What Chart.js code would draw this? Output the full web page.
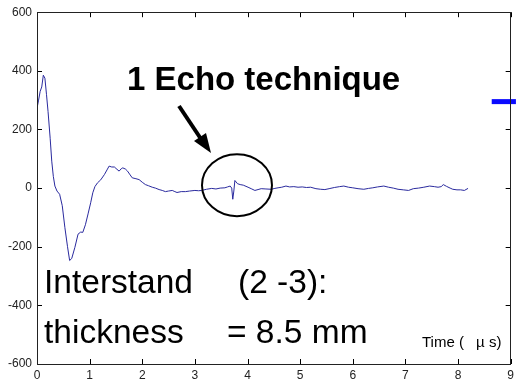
<!DOCTYPE html>
<html>
<head>
<meta charset="utf-8">
<script src="https://cdn.jsdelivr.net/npm/chart.js@4/dist/chart.umd.min.js"></script>
<style>
  html, body { margin: 0; padding: 0; background: #fff; }
  #wrap { width: 518px; height: 385px; }
</style>
</head>
<body>
<div id="wrap"><canvas id="myChart"></canvas></div>
<script>
// echo signal, time in microseconds
const times = [0, 0.03, 0.06, 0.09, 0.12, 0.15, 0.18, 0.21, 0.25, 0.28, 0.31, 0.34, 0.38, 0.43, 0.48, 0.53, 0.58, 0.62, 0.66, 0.72,
    0.78, 0.83, 0.87, 0.92, 0.97, 1.02, 1.06, 1.10, 1.15, 1.21, 1.28, 1.33, 1.37, 1.42, 1.47, 1.52, 1.56, 1.60, 1.63, 1.68,
    1.72, 1.77, 1.81, 1.88, 1.94, 2.00, 2.06, 2.12, 2.19, 2.25, 2.32, 2.38, 2.44, 2.50, 2.57, 2.62, 2.66, 2.74, 2.82, 2.90,
    3.00, 3.07, 3.13, 3.22, 3.32, 3.40, 3.48, 3.57, 3.62, 3.67, 3.70, 3.72, 3.74, 3.76, 3.81, 3.86, 3.92, 4.01, 4.07, 4.14,
    4.20, 4.26, 4.35, 4.45, 4.52, 4.58, 4.65, 4.73, 4.80, 4.88, 4.96, 5.04, 5.12, 5.20, 5.30, 5.39, 5.47, 5.55, 5.65, 5.75,
    5.83, 5.92, 6.00, 6.10, 6.21, 6.30, 6.38, 6.47, 6.59, 6.68, 6.77, 6.86, 6.96, 7.06, 7.15, 7.25, 7.35, 7.46, 7.55, 7.62,
    7.68, 7.72, 7.78, 7.85, 7.90, 7.98, 8.05, 8.12, 8.19];
const amplitude = [272, 300, 330, 345, 385, 375, 320, 261, 170, 92, 40, 7, -10, -21, -60, -135, -200, -247, -240, -202,
    -157, -150, -151, -125, -88, -50, -16, 5, 18, 28, 46, 62, 75, 72, 72, 64, 58, 66, 69, 65,
    58, 45, 35, 32, 29, 20, 12, 8, 3, 0, -5, -8, -12, -10, -8, -12, -15, -12, -12, -10,
    -8, -9, -8, -4, -1, -3, 0, 1, 4, 7, 0, -38, -10, 26, 15, 12, 10, 3, -2, -8,
    -5, -2, -3, -4, -1, 1, 3, 7, 4, 5, 3, 4, 2, 3, -2, -4, -5, -2, 2, 5,
    7, 3, 1, -2, -4, -1, 1, 4, 7, 3, 0, -4, -6, -8, -2, 0, 3, 7, 5, 3,
    5, 12, 6, 0, -4, -6, -6, -8, -1];

// short blue legend stroke at the right edge
const markerX = [8.64, 9.1];
const markerY = [295, 295];

const xTicks = [0, 1, 2, 3, 4, 5, 6, 7, 8, 9];
const yTicks = [-600, -400, -200, 0, 200, 400, 600];

const FONT = '"Liberation Sans", Arial, sans-serif';

const frameTicks = {
    id: 'frameTicks',
    afterDraw(chart) {
        const c = chart.ctx;
        const a = chart.chartArea;
        const xs = chart.scales.x, ys = chart.scales.y;
        c.save();
        c.strokeStyle = '#000';
        c.lineWidth = 1;
        c.beginPath();
        xTicks.forEach(v => {
            const px = Math.round(xs.getPixelForValue(v)) + 0.5;
            c.moveTo(px, a.bottom); c.lineTo(px, a.bottom - 5);
            c.moveTo(px, a.top); c.lineTo(px, a.top + 5);
        });
        yTicks.forEach(v => {
            const py = Math.round(ys.getPixelForValue(v)) + 0.5;
            c.moveTo(a.left, py); c.lineTo(a.left + 5, py);
            c.moveTo(a.right, py); c.lineTo(a.right - 5, py);
        });
        c.stroke();
        c.strokeStyle = '#222';
        c.strokeRect(Math.round(a.left) + 0.5, Math.round(a.top) + 0.5, Math.round(a.right - a.left) - 1, Math.round(a.bottom - a.top));
        c.restore();
    }
};

const notes = {
    id: 'notes',
    afterDraw(chart) {
        const c = chart.ctx;
        const xs = chart.scales.x, ys = chart.scales.y;
        c.save();
        c.fillStyle = '#000';
        c.textBaseline = 'alphabetic';

        c.font = 'bold 33px ' + FONT;
        c.fillText('1 Echo technique', 127, 90);

        // arrow
        c.strokeStyle = '#000';
        c.lineWidth = 4;
        c.beginPath();
        c.moveTo(179, 106);
        c.lineTo(201, 139);
        c.stroke();
        c.beginPath();
        c.moveTo(211, 153);
        c.lineTo(194, 141);
        c.lineTo(206, 133);
        c.closePath();
        c.fill();

        // circle round the echo
        c.lineWidth = 2;
        c.beginPath();
        c.ellipse(xs.getPixelForValue(3.8), ys.getPixelForValue(10), 35, 31, 0, 0, Math.PI * 2);
        c.stroke();

        c.font = '33.5px ' + FONT;
        c.fillText('Interstand', 44, 293);
        c.fillText('(2 -3):', 238, 293);
        c.fillText('thickness', 44, 343);
        c.fillText('= 8.5 mm', 227, 343);

        c.font = '15px ' + FONT;
        c.fillText('Time (', 422, 347);
        c.fillText('\u00b5', 476, 347);
        c.fillText('s)', 489, 347);
        c.restore();
    }
};

const ctx = document.getElementById('myChart').getContext('2d');
const myChart = new Chart(ctx, {
    type: 'line',
    data: {
        datasets: [{
            data: times.map((t, i) => ({ x: t, y: amplitude[i] })),
            borderColor: '#2a2a9e',
            borderWidth: 1,
            pointRadius: 0,
            tension: 0
        }, {
            data: markerX.map((t, i) => ({ x: t, y: markerY[i] })),
            borderColor: '#0a0aff',
            borderWidth: 5,
            pointRadius: 0,
            clip: false
        }]
    },
    options: {
        responsive: true,
        maintainAspectRatio: false,
        animation: false,
        layout: { padding: { top: 10, right: 3, left: 0, bottom: 0 } },
        plugins: { legend: { display: false }, tooltip: { enabled: false } },
        scales: {
            x: {
                type: 'linear',
                min: 0, max: 9,
                afterBuildTicks: s => { s.ticks = xTicks.map(v => ({ value: v })); },
                afterFit: s => { s.height = 21; },
                grid: { display: false, drawTicks: false },
                border: { display: false },
                ticks: { color: '#222', font: { family: FONT, size: 12 }, padding: 4, maxRotation: 0 }
            },
            y: {
                min: -600, max: 600,
                afterBuildTicks: s => { s.ticks = yTicks.map(v => ({ value: v })); },
                afterFit: s => { s.width = 37; },
                grid: { display: false, drawTicks: false },
                border: { display: false },
                ticks: { color: '#222', font: { family: FONT, size: 12 }, padding: 5 }
            }
        }
    },
    plugins: [frameTicks, notes]
});
</script>
</body>
</html>
